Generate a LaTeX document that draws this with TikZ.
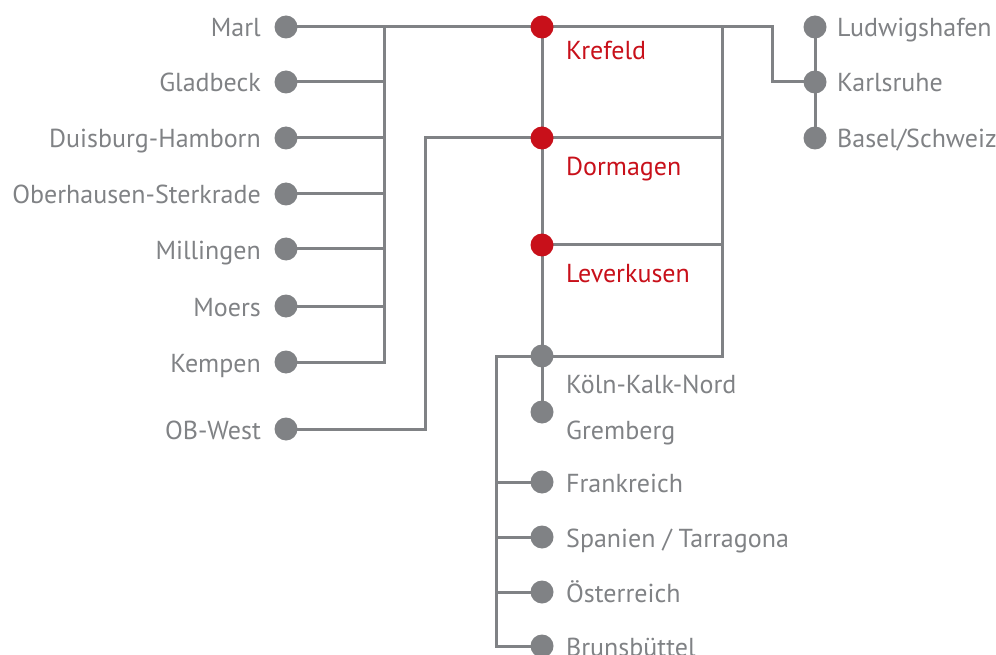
\documentclass[tikz,border=0pt]{standalone}
\usepackage{fontspec}
\setmainfont{PT Sans}
\usetikzlibrary{backgrounds}
\definecolor{gr}{HTML}{808285}
\definecolor{rd}{HTML}{C8101A}
\begin{document}
\begin{tikzpicture}[x=1pt,y=-1pt,
 dot/.style={circle,fill=gr,minimum size=23pt,inner sep=0pt},
 rdot/.style={dot,fill=rd},
 lab/.style={font=\fontsize{26}{30}\selectfont,text=gr,inner sep=0pt},
 rlab/.style={lab,text=rd},
 wire/.style={draw=gr,line width=3pt}]
\useasboundingbox (0,0) rectangle (996,655);
\clip (0,0) rectangle (996,655);
% left stations
\node[dot] (marl) at (286,27) {};
\node[dot] (glad) at (286,82) {};
\node[dot] (duis) at (286,138) {};
\node[dot] (ober) at (286,194) {};
\node[dot] (mill) at (286,249) {};
\node[dot] (moer) at (286,306) {};
\node[dot] (kemp) at (286,362) {};
\node[dot] (obw) at (286,429) {};
% centre
\node[rdot] (kref) at (542,27) {};
\node[rdot] (dorm) at (542,138) {};
\node[rdot] (leve) at (542,245) {};
\node[dot] (koln) at (542,356) {};
\node[dot] (grem) at (542,412) {};
\node[dot] (fran) at (542,482) {};
\node[dot] (span) at (542,537) {};
\node[dot] (oest) at (542,592) {};
\node[dot] (brun) at (542,646) {};
% right
\node[dot] (ludw) at (815,27) {};
\node[dot] (karl) at (815,82) {};
\node[dot] (base) at (815,138) {};
% junction coordinates
\coordinate (b1) at (384,27);
\coordinate (b2) at (384,362);
\coordinate (w1) at (425,429);
\coordinate (w2) at (425,138);
\coordinate (r1) at (722,27);
\coordinate (r2) at (722,356);
\coordinate (t1) at (772,27);
\coordinate (t2) at (772,82);
\coordinate (s1) at (496,356);
\coordinate (s2) at (496,646);
\begin{scope}[on background layer]
\draw[wire] (marl.center) -- (t1) -- (t2) -- (karl.center);
\draw[wire] (b1) -- (b2) -- (kemp.center);
\foreach \n in {glad,duis,ober,mill,moer} \draw[wire] (\n.center) -- (\n.center -| b1);
\draw[wire] (obw.center) -- (w1) -- (w2) -- (dorm.center);
\draw[wire] (kref.center) -- (grem.center);
\draw[wire] (r1) -- (r2) -- (s1) -- (s2) -- (brun.center);
\foreach \n in {dorm,leve} \draw[wire] (\n.center) -- (\n.center -| r1);
\foreach \n in {fran,span,oest} \draw[wire] (\n.center) -- (\n.center -| s1);
\draw[wire] (ludw.center) -- (base.center);
\end{scope}
% labels
\foreach \n/\t in {marl/Marl,glad/Gladbeck,duis/Duisburg-Hamborn,ober/Oberhausen-Sterkrade,mill/Millingen,moer/Moers,kemp/Kempen,obw/OB-West}
 \node[lab,anchor=base east] at ([xshift=-25pt,yshift=-10pt]\n.center) {\t};
\foreach \n/\t in {ludw/Ludwigshafen,karl/Karlsruhe,base/{Basel/Schweiz}}
 \node[lab,anchor=base west] at ([xshift=22pt,yshift=-10pt]\n.center) {\t};
\node[rlab,anchor=base west] (lkref) at (566,60) {Krefeld};
\node[rlab,anchor=base west] (ldorm) at (566,176) {Dormagen};
\node[rlab,anchor=base west] (lleve) at (566,282) {Leverkusen};
\node[lab,anchor=base west] (lkoln) at (566,393) {Köln-Kalk-Nord};
\node[lab,anchor=base west] (lgrem) at (566,439) {Gremberg};
\foreach \n/\t in {fran/Frankreich,span/{Spanien / Tarragona},oest/Österreich,brun/Brunsbüttel}
 \node[lab,anchor=base west] at ([xshift=24pt,yshift=-10.5pt]\n.center) {\t};
\end{tikzpicture}
\end{document}
